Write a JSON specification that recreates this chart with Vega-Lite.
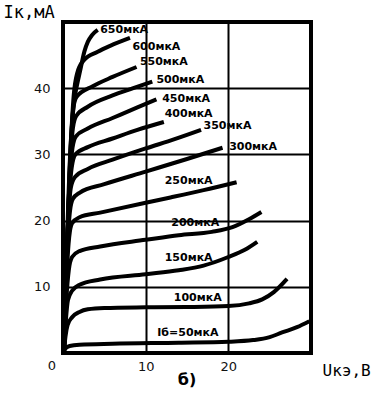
{
  "$schema": "https://vega.github.io/schema/vega-lite/v6.json",
  "width": 248,
  "height": 331,
  "autosize": "none",
  "padding": {"left": 63, "top": 22, "right": 63, "bottom": 42},
  "background": "white",
  "config": {"view": {"stroke": "black", "strokeWidth": 4}, "font": "DejaVu Sans"},
  "datasets": {
    "curves": [
      {"ib": 50, "u": 0.1, "i": 0}, {"ib": 50, "u": 0.3, "i": 0.7}, {"ib": 50, "u": 0.8, "i": 1.05}, {"ib": 50, "u": 2, "i": 1.25}, {"ib": 50, "u": 6, "i": 1.4}, {"ib": 50, "u": 14, "i": 1.55}, {"ib": 50, "u": 20, "i": 1.7}, {"ib": 50, "u": 23, "i": 1.95}, {"ib": 50, "u": 25, "i": 2.4}, {"ib": 50, "u": 26.5, "i": 3.1}, {"ib": 50, "u": 28.3, "i": 3.9}, {"ib": 50, "u": 29.8, "i": 4.8},
      {"ib": 100, "u": 0.1, "i": 0}, {"ib": 100, "u": 0.3, "i": 2.5}, {"ib": 100, "u": 0.55, "i": 4.2}, {"ib": 100, "u": 1.1, "i": 5.4}, {"ib": 100, "u": 2, "i": 6.2}, {"ib": 100, "u": 3, "i": 6.6}, {"ib": 100, "u": 5, "i": 6.8}, {"ib": 100, "u": 10, "i": 6.9}, {"ib": 100, "u": 15, "i": 6.95}, {"ib": 100, "u": 20, "i": 7.1}, {"ib": 100, "u": 22.5, "i": 7.5}, {"ib": 100, "u": 24.1, "i": 8.1}, {"ib": 100, "u": 25.5, "i": 9.2}, {"ib": 100, "u": 27.1, "i": 11.2},
      {"ib": 150, "u": 0.1, "i": 0}, {"ib": 150, "u": 0.35, "i": 5}, {"ib": 150, "u": 0.6, "i": 8}, {"ib": 150, "u": 1.1, "i": 9.4}, {"ib": 150, "u": 2, "i": 10.3}, {"ib": 150, "u": 4.5, "i": 11.1}, {"ib": 150, "u": 10, "i": 11.9}, {"ib": 150, "u": 14, "i": 12.5}, {"ib": 150, "u": 17, "i": 13.2}, {"ib": 150, "u": 20, "i": 14.5}, {"ib": 150, "u": 22, "i": 15.6}, {"ib": 150, "u": 23.5, "i": 16.8},
      {"ib": 200, "u": 0.1, "i": 0}, {"ib": 200, "u": 0.4, "i": 8}, {"ib": 200, "u": 0.7, "i": 12.5}, {"ib": 200, "u": 1.1, "i": 14.5}, {"ib": 200, "u": 2, "i": 15.4}, {"ib": 200, "u": 4.5, "i": 16.1}, {"ib": 200, "u": 10, "i": 17.1}, {"ib": 200, "u": 14, "i": 17.8}, {"ib": 200, "u": 18, "i": 18.3}, {"ib": 200, "u": 20.5, "i": 19.0}, {"ib": 200, "u": 22.5, "i": 20.2}, {"ib": 200, "u": 24, "i": 21.3},
      {"ib": 250, "u": 0.1, "i": 0}, {"ib": 250, "u": 0.45, "i": 12}, {"ib": 250, "u": 0.75, "i": 17.5}, {"ib": 250, "u": 1.1, "i": 19.6}, {"ib": 250, "u": 2, "i": 20.5}, {"ib": 250, "u": 4.5, "i": 21.2}, {"ib": 250, "u": 10, "i": 22.7}, {"ib": 250, "u": 13, "i": 23.5}, {"ib": 250, "u": 17, "i": 24.6}, {"ib": 250, "u": 21, "i": 25.8},
      {"ib": 300, "u": 0.1, "i": 0}, {"ib": 300, "u": 0.55, "i": 16}, {"ib": 300, "u": 0.85, "i": 21.5}, {"ib": 300, "u": 1.2, "i": 23.3}, {"ib": 300, "u": 2, "i": 24.2}, {"ib": 300, "u": 5, "i": 25.5}, {"ib": 300, "u": 10, "i": 27.4}, {"ib": 300, "u": 15, "i": 29.3}, {"ib": 300, "u": 19.3, "i": 31.0},
      {"ib": 350, "u": 0.1, "i": 0}, {"ib": 350, "u": 0.6, "i": 19}, {"ib": 350, "u": 0.95, "i": 25}, {"ib": 350, "u": 1.45, "i": 26.6}, {"ib": 350, "u": 3, "i": 27.8}, {"ib": 350, "u": 6, "i": 29.2}, {"ib": 350, "u": 10, "i": 30.9}, {"ib": 350, "u": 13.5, "i": 32.3}, {"ib": 350, "u": 16.7, "i": 33.7},
      {"ib": 400, "u": 0.1, "i": 0}, {"ib": 400, "u": 0.65, "i": 21}, {"ib": 400, "u": 1.05, "i": 28}, {"ib": 400, "u": 1.5, "i": 30.0}, {"ib": 400, "u": 3, "i": 31.1}, {"ib": 400, "u": 6, "i": 32.4}, {"ib": 400, "u": 9, "i": 33.7}, {"ib": 400, "u": 12.2, "i": 34.9},
      {"ib": 450, "u": 0.1, "i": 0}, {"ib": 450, "u": 0.7, "i": 23}, {"ib": 450, "u": 1.15, "i": 31}, {"ib": 450, "u": 1.55, "i": 32.7}, {"ib": 450, "u": 3, "i": 33.9}, {"ib": 450, "u": 6, "i": 35.5}, {"ib": 450, "u": 9, "i": 37.1}, {"ib": 450, "u": 11.3, "i": 38.3},
      {"ib": 500, "u": 0.1, "i": 0}, {"ib": 500, "u": 0.75, "i": 25}, {"ib": 500, "u": 1.2, "i": 34}, {"ib": 500, "u": 1.6, "i": 35.8}, {"ib": 500, "u": 3, "i": 37.2}, {"ib": 500, "u": 6, "i": 38.9}, {"ib": 500, "u": 8.5, "i": 40.0}, {"ib": 500, "u": 10.8, "i": 41.0},
      {"ib": 550, "u": 0.1, "i": 0}, {"ib": 550, "u": 0.8, "i": 27}, {"ib": 550, "u": 1.25, "i": 37}, {"ib": 550, "u": 1.65, "i": 38.7}, {"ib": 550, "u": 3.6, "i": 40.3}, {"ib": 550, "u": 6, "i": 41.7}, {"ib": 550, "u": 8.9, "i": 43.2},
      {"ib": 600, "u": 0.1, "i": 0}, {"ib": 600, "u": 0.85, "i": 29}, {"ib": 600, "u": 1.3, "i": 39}, {"ib": 600, "u": 1.7, "i": 42.2}, {"ib": 600, "u": 2.5, "i": 44.2}, {"ib": 600, "u": 4.2, "i": 45.5}, {"ib": 600, "u": 5.7, "i": 46.4}, {"ib": 600, "u": 8.1, "i": 47.6},
      {"ib": 650, "u": 0.1, "i": 0}, {"ib": 650, "u": 0.9, "i": 31}, {"ib": 650, "u": 1.35, "i": 38}, {"ib": 650, "u": 1.7, "i": 40.5}, {"ib": 650, "u": 2.05, "i": 42.5}, {"ib": 650, "u": 2.6, "i": 45.6}, {"ib": 650, "u": 3.0, "i": 47.0}, {"ib": 650, "u": 3.5, "i": 48.0}, {"ib": 650, "u": 4.2, "i": 48.8}
    ],
    "labels": [
      {"u": 4.5, "i": 48.8, "t": "650мкА"},
      {"u": 8.4, "i": 46.2, "t": "600мкА"},
      {"u": 9.3, "i": 44.0, "t": "550мкА"},
      {"u": 11.3, "i": 41.2, "t": "500мкА"},
      {"u": 12.0, "i": 38.4, "t": "450мкА"},
      {"u": 12.3, "i": 36.1, "t": "400мкА"},
      {"u": 17.0, "i": 34.3, "t": "350мкА"},
      {"u": 20.1, "i": 31.1, "t": "300мкА"},
      {"u": 12.3, "i": 26.0, "t": "250мкА"},
      {"u": 13.1, "i": 19.6, "t": "200мкА"},
      {"u": 12.3, "i": 14.4, "t": "150мкА"},
      {"u": 13.4, "i": 8.3, "t": "100мкА"},
      {"u": 11.4, "i": 3.0, "t": "Iб=50мкА"}
    ]
  },
  "layer": [
    {
      "data": {"name": "curves"},
      "mark": {"type": "line", "color": "black", "strokeWidth": 4, "interpolate": "monotone"},
      "encoding": {
        "x": {
          "field": "u", "type": "quantitative",
          "scale": {"domain": [0, 30], "nice": false, "zero": false},
          "axis": {
            "values": [10, 20], "grid": true, "gridColor": "black", "gridWidth": 2, "gridOpacity": 1,
            "ticks": false, "domain": false,
            "labelFont": "DejaVu Sans", "labelFontSize": 13, "labelColor": "#111", "labelPadding": 7,
            "title": "Uкэ,В", "titleFont": "DejaVu Sans Mono", "titleFontSize": 16, "titleFontWeight": "normal",
            "titleColor": "black", "titleAlign": "left", "titleBaseline": "middle", "titleX": 259, "titleY": 17
          }
        },
        "y": {
          "field": "i", "type": "quantitative",
          "scale": {"domain": [0, 50], "nice": false},
          "axis": {
            "values": [10, 20, 30, 40], "grid": true, "gridColor": "black", "gridWidth": 2, "gridOpacity": 1,
            "ticks": false, "domain": false,
            "labelFont": "DejaVu Sans", "labelFontSize": 13, "labelColor": "#111", "labelPadding": 13,
            "title": "Iк,мА", "titleFont": "DejaVu Sans Mono", "titleFontSize": 17, "titleFontWeight": "normal",
            "titleColor": "black", "titleAngle": 0, "titleAlign": "left", "titleBaseline": "middle", "titleX": -60, "titleY": -10
          }
        },
        "detail": {"field": "ib", "type": "nominal"},
        "order": {"field": "u", "type": "quantitative"}
      }
    },
    {
      "data": {"name": "labels"},
      "mark": {"type": "text", "align": "left", "baseline": "middle", "font": "DejaVu Sans", "fontWeight": "bold", "fontSize": 11, "color": "black"},
      "encoding": {
        "x": {"field": "u", "type": "quantitative"},
        "y": {"field": "i", "type": "quantitative"},
        "text": {"field": "t", "type": "nominal"}
      }
    },
    {
      "data": {"values": [{"u": -1.33, "i": -1.96, "t": "0"}]},
      "mark": {"type": "text", "align": "center", "baseline": "middle", "font": "DejaVu Sans", "fontSize": 13, "color": "#111"},
      "encoding": {
        "x": {"field": "u", "type": "quantitative"},
        "y": {"field": "i", "type": "quantitative"},
        "text": {"field": "t", "type": "nominal"}
      }
    },
    {
      "data": {"values": [{"u": 15.0, "i": -4.1, "t": "б)"}]},
      "mark": {"type": "text", "align": "center", "baseline": "middle", "font": "DejaVu Sans", "fontWeight": "bold", "fontSize": 16, "color": "black"},
      "encoding": {
        "x": {"field": "u", "type": "quantitative"},
        "y": {"field": "i", "type": "quantitative"},
        "text": {"field": "t", "type": "nominal"}
      }
    }
  ]
}
